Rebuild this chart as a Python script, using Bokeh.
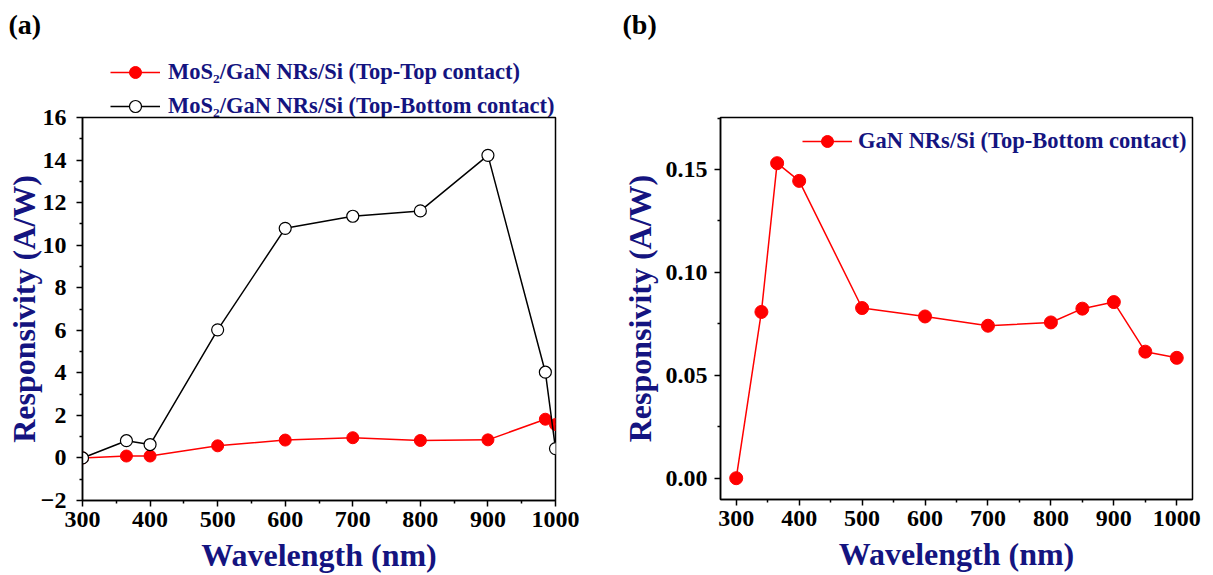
from bokeh.plotting import figure
from bokeh.layouts import row, column
from bokeh.models import (Range1d, FixedTicker, Legend, LegendItem, Label,
                          NumeralTickFormatter)
from bokeh.embed import file_html
from bokeh.resources import INLINE

# ---------------- data ----------------
wavelength_a = [300, 365, 400, 500, 600, 700, 800, 900, 985, 1000]
resp_top_top = [0.0, 0.09, 0.09, 0.57, 0.84, 0.95, 0.82, 0.85, 1.82, 1.57]
resp_top_bottom = [0.0, 0.81, 0.63, 6.02, 10.79, 11.36, 11.61, 14.22, 4.03, 0.44]

wavelength_b = [300, 340, 365, 400, 500, 600, 700, 800, 850, 900, 950, 1000]
resp_gan = [0.0, 0.0808, 0.1531, 0.1445, 0.0827, 0.0786, 0.0741, 0.0757,
            0.0824, 0.0856, 0.0615, 0.0585]

label_a1 = "MoS₂/GaN NRs/Si (Top-Top contact)"
label_a2 = "MoS₂/GaN NRs/Si (Top-Bottom contact)"
label_b = "GaN NRs/Si (Top-Bottom contact)"
x_title = "Wavelength (nm)"
y_title = "Responsivity (A/W)"
panel_a = "(a)"
panel_b = "(b)"

x_ticks = [300, 400, 500, 600, 700, 800, 900, 1000]
x_minor = [350, 450, 550, 650, 750, 850, 950]
ya_ticks = [-2, 0, 2, 4, 6, 8, 10, 12, 14, 16]
ya_minor = [-1, 1, 3, 5, 7, 9, 11, 13, 15]
yb_ticks = [0.0, 0.05, 0.10, 0.15]
yb_minor = [0.025, 0.075, 0.125, 0.175]

NAVY = "#141480"
FONT = "Liberation Serif"
LEG_SIZE = "22.5px"
HEAD_H = 121
OVERLAP = 17
MAIN_H = 575 - HEAD_H + OVERLAP
TOP_B = 117 - (HEAD_H - OVERLAP)
W1, W2 = 618, 595


def style(p, xt, xm, yt, ym, ystand, ylab_stand, xlab_stand):
    p.xgrid.visible = False
    p.ygrid.visible = False
    p.outline_line_color = "black"
    p.outline_line_width = 1.5
    p.outline_line_alpha = 1.0
    p.background_fill_color = "white"
    p.border_fill_alpha = 0
    for ax in (p.xaxis[0], p.yaxis[0]):
        ax.axis_line_width = 1.5
        ax.axis_line_color = "black"
        ax.major_tick_line_width = 1.5
        ax.minor_tick_line_width = 1.5
        ax.major_tick_out = 6
        ax.major_tick_in = 0
        ax.minor_tick_out = 3
        ax.minor_tick_in = 0
        ax.major_label_text_font = FONT
        ax.major_label_text_font_style = "bold"
        ax.major_label_text_font_size = "24px"
        ax.major_label_text_color = "black"
        ax.axis_label_text_font = FONT
        ax.axis_label_text_font_style = "bold"
        ax.axis_label_text_font_size = "32px"
        ax.axis_label_text_color = NAVY
    p.xaxis[0].axis_label = x_title
    p.yaxis[0].axis_label = y_title
    p.xaxis[0].ticker = FixedTicker(ticks=xt, minor_ticks=xm)
    p.yaxis[0].ticker = FixedTicker(ticks=yt, minor_ticks=ym)
    p.xaxis[0].major_label_standoff = 5
    p.yaxis[0].major_label_standoff = ystand
    p.yaxis[0].axis_label_standoff = ylab_stand
    p.xaxis[0].axis_label_standoff = xlab_stand


def header(width, text, tx):
    h = figure(width=width, height=HEAD_H, output_backend="svg",
               toolbar_location=None, title_location=None, frame_align=False,
               x_range=Range1d(0, width), y_range=Range1d(0, HEAD_H),
               x_axis_location=None, y_axis_location=None,
               min_border_left=0, min_border_right=0, min_border_top=0,
               min_border_bottom=0)
    h.xgrid.visible = False
    h.ygrid.visible = False
    h.outline_line_color = None
    h.background_fill_color = "white"
    h.border_fill_color = "white"
    h.extra_x_ranges = {"hidden": Range1d(0, 1)}
    h.extra_y_ranges = {"hidden": Range1d(1000, 2000)}
    h.add_layout(Label(x=tx, y=HEAD_H - 24, text=text, text_font=FONT,
                       text_font_style="bold", text_font_size="28px",
                       text_color="black", text_align="left",
                       text_baseline="middle"))
    return h


# ---------------- panel (a) ----------------
h1 = header(W1, panel_a, 8)
hl1 = h1.line(wavelength_a, resp_top_top, line_color="red", line_width=1.5,
              x_range_name="hidden", y_range_name="hidden")
hs1 = h1.scatter(wavelength_a, resp_top_top, marker="circle", size=12,
                 fill_color="red", line_color="red",
                 x_range_name="hidden", y_range_name="hidden")
hl2 = h1.line(wavelength_a, resp_top_bottom, line_color="black", line_width=1.5,
              x_range_name="hidden", y_range_name="hidden")
hs2 = h1.scatter(wavelength_a, resp_top_bottom, marker="circle", size=12,
                 fill_color="white", line_color="black", line_width=1.2,
                 x_range_name="hidden", y_range_name="hidden")
leg1 = Legend(items=[LegendItem(label=label_a1, renderers=[hl1, hs1]),
                     LegendItem(label=label_a2, renderers=[hl2, hs2])],
              location=(110, 0), padding=0, margin=0, spacing=4,
              glyph_width=50, glyph_height=30, label_height=30,
              label_standoff=8, label_text_font=FONT,
              label_text_font_style="bold", label_text_font_size=LEG_SIZE,
              label_text_color=NAVY, border_line_color=None,
              background_fill_alpha=0)
h1.add_layout(leg1)

p1 = figure(width=W1, height=MAIN_H, output_backend="svg",
            toolbar_location=None, title_location=None, frame_align=False,
            x_range=Range1d(300, 1000), y_range=Range1d(-2, 16),
            min_border_left=82, min_border_right=63, min_border_top=TOP_B,
            min_border_bottom=MAIN_H - TOP_B - 383,
            margin=(-OVERLAP, 0, 0, 0))
style(p1, x_ticks, x_minor, ya_ticks, ya_minor, 10, -4, 7)

p1.line(wavelength_a, resp_top_top, line_color="red", line_width=1.5)
p1.scatter(wavelength_a, resp_top_top, marker="circle", size=12,
           fill_color="red", line_color="red")
p1.line(wavelength_a, resp_top_bottom, line_color="black", line_width=1.5)
p1.scatter(wavelength_a, resp_top_bottom, marker="circle", size=12,
           fill_color="white", line_color="black", line_width=1.2)

# ---------------- panel (b) ----------------
h2 = header(W2, panel_b, 4)

p2 = figure(width=W2, height=MAIN_H, output_backend="svg",
            toolbar_location=None, title_location=None, frame_align=False,
            x_range=Range1d(275, 1025), y_range=Range1d(-0.01035, 0.1753),
            min_border_left=102, min_border_right=21, min_border_top=TOP_B,
            min_border_bottom=MAIN_H - TOP_B - 382,
            margin=(-OVERLAP, 0, 0, 0))
style(p2, x_ticks, x_minor, yb_ticks, yb_minor, 7, 5, 7)
p2.yaxis[0].formatter = NumeralTickFormatter(format="0.00")

l3 = p2.line(wavelength_b, resp_gan, line_color="red", line_width=1.5)
s3 = p2.scatter(wavelength_b, resp_gan, marker="circle", size=13,
                fill_color="red", line_color="red")

leg2 = Legend(items=[LegendItem(label=label_b, renderers=[l3, s3])],
              location=(82, 343), padding=0, margin=0, spacing=4,
              glyph_width=50, glyph_height=30, label_height=30,
              label_standoff=6, label_text_font=FONT,
              label_text_font_style="bold", label_text_font_size=LEG_SIZE,
              label_text_color=NAVY, border_line_color=None,
              background_fill_alpha=0)
p2.add_layout(leg2)

layout = row(column(h1, p1), column(h2, p2))
open("out.html", "w").write(file_html(layout, INLINE))
